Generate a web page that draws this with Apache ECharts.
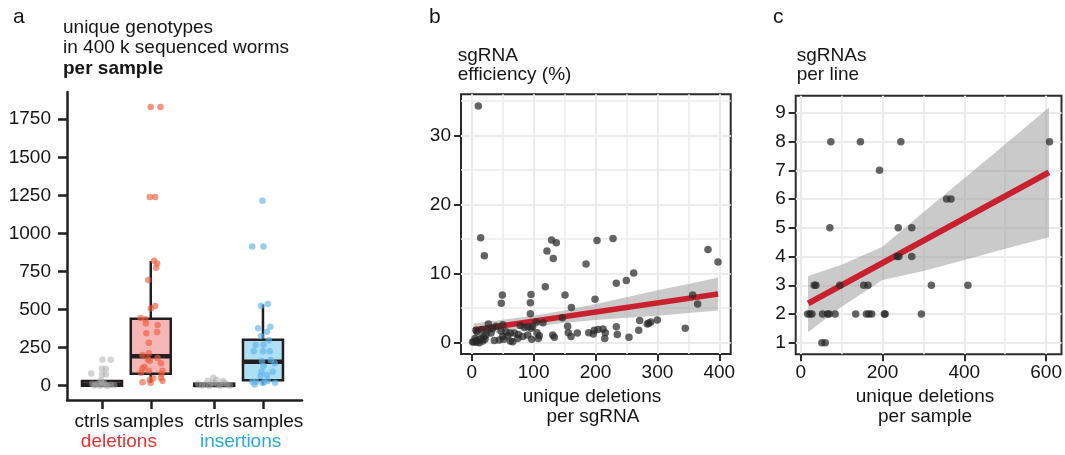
<!DOCTYPE html>
<html><head><meta charset="utf-8">
<script src="https://cdn.jsdelivr.net/npm/echarts@6/dist/echarts.min.js"></script>
<style>html,body{margin:0;padding:0;background:#fff}#chart{width:1065px;height:455px}</style>
</head><body><div id="chart"></div>
<script>
// ---------------- Panel a data ----------------
const aCategories = ['ctrls', 'samples', 'ctrls', 'samples'];
const aGroups = ['deletions', 'insertions'];
const aCatPos = [1, 2, 3.3, 4.3];
const aYTicks = [0, 250, 500, 750, 1000, 1250, 1500, 1750];
// box stats: [min, q1, median, q3, max]
const aBoxStats = [
  [0, 0, 8, 30, 37],
  [20, 79, 193, 440, 818],
  [0, 0, 4, 12, 20],
  [7, 35, 158, 302, 534]
];
// jittered points: [offset from category, value]
const delCtrlPts = [[0.01,171],[0.18,171],[-0.22,80],[0.00,112],[0.08,112],[0.00,73],[0.08,73],[-0.02,37],[-0.20,12],[-0.13,8],[-0.08,15],[0.00,4],[0.06,10],[0.12,2],[0.18,6],[0.25,3],[-0.16,1],[-0.05,0],[0.10,0],[0.04,18],[-0.01,22]];
const delSamplePts = [[0.00,1831],[0.20,1831],[-0.02,1240],[0.09,1240],[0.07,820],[0.13,803],[0.11,774],[-0.05,694],[0.00,508],[0.09,523],[-0.21,444],[-0.11,436],[-0.10,409],[0.14,398],[-0.09,344],[0.13,352],[-0.04,282],[-0.17,201],[-0.04,213],[0.14,182],[-0.06,173],[-0.02,164],[0.21,147],[-0.17,114],[-0.13,125],[-0.04,98],[0.24,98],[-0.20,85],[0.22,77],[0.05,49],[-0.02,37],[0.21,50],[0.24,33],[-0.17,22],[0.00,20]];
const insCtrlPts = [[-0.02,52],[-0.13,33],[0.05,37],[0.18,31],[-0.33,12],[-0.19,8],[-0.05,15],[0.08,6],[0.26,10],[0.32,2],[-0.25,2],[-0.10,0],[0.12,0],[0.00,20],[0.20,18]];
const insSamplePts = [[-0.01,1214],[-0.22,915],[0.01,915],[-0.04,525],[0.10,536],[-0.10,377],[0.15,387],[0.08,354],[-0.04,326],[0.12,298],[-0.15,267],[0.01,269],[-0.19,226],[0.00,226],[0.14,226],[-0.02,162],[0.16,169],[0.24,147],[0.01,129],[-0.03,92],[0.20,92],[-0.05,64],[0.08,70],[-0.22,26],[-0.14,26],[0.03,24],[0.10,33],[0.25,20],[-0.01,18],[-0.17,7]];

// ---------------- Panel b data ----------------
const bXTicks = [0, 100, 200, 300, 400];
const bXMinor = [50, 150, 250, 350];
const bYTicks = [0, 10, 20, 30];
const bYMinor = [5, 15, 25, 35];
const bPoints = [[10.7,34.3],[14.5,15.2],[20.4,12.6],[129,14.9],[136.7,14.5],[121.6,13.3],[131.8,12.2],[202.4,14.8],[228.3,15.1],[184.7,11.4],[381.7,13.5],[397.9,11.7],[261.7,10.1],[249.8,9.0],[233.6,8.6],[118.9,8.1],
 [49.5,6.9],[95.8,7.0],[150.7,6.9],[47.8,5.7],[94.7,5.8],[199.2,6.3],[357,6.9],[365,5.6],[94.7,4.2],[161,5.1],[146.4,3.6],[104.4,3.0],[115.2,2.9],
 [26.8,2.7],[78.5,2.5],[85,2.2],[90.5,2.3],[98.5,2.3],[39.3,2.4],[50.1,2.6],[16.2,1.9],[25.8,1.9],[33.9,2.1],[6.9,1.8],[47.3,1.7],[55.4,1.6],[62.4,1.4],[68.8,1.4],[75.3,1.2],[58.2,1.0],[50.1,0.9],[90.5,1.1],[105.5,1.45],[107.6,0.6],[130.9,1.1],[133.5,0.8],[155,2.4],[156,1.45],[160.4,0.9],[170.6,1.4],[189,1.45],[198,1.8],[196.4,1.26],
 [36.5,0.3],[44.6,0.4],[51.7,0.5],[62.4,0.25],[66.2,0.15],[74.3,0.6],[82.4,0.9],[96.9,0.5],[109.2,1.0],
 [3.2,0.15],[6.9,0.3],[10.7,0.4],[15,0.6],[19.4,0.9],[23.1,1.1],[5.3,0.6],[12.3,0.0],[17.8,0.25],[21.5,0.5],[8.6,1.6],[31.2,1.4],[1.5,0.1],[7.5,0.05],
 [271.4,3.2],[286,2.8],[289.2,3.0],[283.7,2.7],[299.8,3.3],[269.8,1.8],[345,2.1],[233.6,2.3],[235.2,1.2],[254.1,0.8],[212.1,2.0],[215.8,1.45],[214.9,0.6],[204,1.9],[95.8,2.1]];
const bFitLine = [[3, 1.84], [398, 7.06]];
const bBandX = [3, 50, 100, 150, 200, 250, 300, 350, 398];
const bBandLow = [0.89, 1.61, 2.32, 2.88, 3.29, 3.60, 3.91, 4.32, 4.66];
const bBandHigh = [2.79, 3.31, 3.92, 4.68, 5.59, 6.60, 7.61, 8.52, 9.46];

// ---------------- Panel c data ----------------
const cXTicks = [0, 200, 400, 600];
const cXMinor = [100, 300, 500];
const cYTicks = [1, 2, 3, 4, 5, 6, 7, 8, 9];
const cPoints = [[73.7,8],[146,8],[244.8,8],[608.3,8],[192.7,7],[356.7,6],[367.4,6],[71.3,5],[238.4,5],[271.5,5],[236,4],[240,4],[271.5,4],
 [33.1,3],[37.2,3],[95.6,3],[154,3],[164.5,3],[319.5,3],[408.8,3],
 [17,2],[22.6,2],[27.5,2],[53.5,2],[65.7,2],[69.6,2],[84.2,2],[134.5,2],[160.6,2],[166.9,2],[173.5,2],[204.5,2],[206.5,2],[295.1,2],
 [51.8,1],[60,1]];
const cFitLine = [[18.5, 2.37], [606.6, 6.93]];
const cBandX = [18, 100, 200, 300, 400, 500, 607];
const cBandLow = [1.36, 2.25, 3.18, 3.50, 3.88, 4.27, 4.67];
const cBandHigh = [3.32, 3.71, 4.34, 5.54, 6.73, 7.91, 9.19];

// ---------------- styles ----------------
const FONT = '"Liberation Sans", Arial, sans-serif';
const INK = '#151515';
const boxFills = ['#d9d9d9', '#f6b6b6', '#d9d9d9', '#aee0f5'];
const labelShift = [[0, 20, 0, 0], [0, 5, 0, 0], [0, 5, 0, 0], [0, 0, 0, 10]];
const groupShift = [[0, 15, 0, 0], [0, 0, 0, 4]];
const groupColors = ['#ee2f32', '#2aa9e0'];

const chart = echarts.init(document.getElementById('chart'), null, {renderer: 'canvas'});

const lbl = {fontFamily: FONT, fontSize: 19, color: INK};
const tickStyle = {color: '#2b2b2b', width: 2};
const plain = v => String(v);

function mainAxis(grid, min, max, ticks, margin, extra) {
  return Object.assign({
    gridIndex: grid, type: 'value', min: min, max: max,
    axisLine: {show: false, onZero: false},
    axisTick: {show: true, customValues: ticks, length: 7, lineStyle: tickStyle},
    axisLabel: Object.assign({customValues: ticks, margin: margin, formatter: plain}, lbl),
    splitLine: {show: true, lineStyle: {color: '#ebebeb', width: 2}}
  }, extra || {});
}
function minorAxis(grid, min, max, ticks) {
  return {
    gridIndex: grid, type: 'value', min: min, max: max,
    axisLine: {show: false, onZero: false},
    axisTick: {show: false, customValues: ticks},
    axisLabel: {show: false, customValues: ticks},
    splitLine: {show: true, lineStyle: {color: '#ebebeb', width: 1.5}}
  };
}

const groupPos = [(aCatPos[0] + aCatPos[1]) / 2, (aCatPos[2] + aCatPos[3]) / 2];

const aRich = {};
aCategories.forEach((c, i) => { aRich['l' + i] = Object.assign({padding: labelShift[i]}, lbl); });
const gRich = {};
aGroups.forEach((g, i) => { gRich['g' + i] = Object.assign({}, lbl, {color: groupColors[i], padding: groupShift[i]}); });

function boxRender(params, api) {
  const x = api.value(0);
  const lo = api.coord([x, api.value(1)]);
  const q1 = api.coord([x, api.value(2)]);
  const md = api.coord([x, api.value(3)]);
  const q3 = api.coord([x, api.value(4)]);
  const hi = api.coord([x, api.value(5)]);
  const w = api.size([0.82, 0])[0];
  const st = {stroke: '#231f20', lineWidth: 2.5};
  return {type: 'group', children: [
    {type: 'line', shape: {x1: hi[0], y1: hi[1], x2: q3[0], y2: q3[1]}, style: st},
    {type: 'line', shape: {x1: q1[0], y1: q1[1], x2: lo[0], y2: lo[1]}, style: st},
    {type: 'rect', shape: {x: q3[0] - w / 2, y: q3[1], width: w, height: q1[1] - q3[1]},
      style: {fill: boxFills[params.dataIndex], stroke: '#231f20', lineWidth: 2.5}},
    {type: 'line', shape: {x1: md[0] - w / 2, y1: md[1], x2: md[0] + w / 2, y2: md[1]},
      style: {stroke: '#231f20', lineWidth: 4.5}}
  ]};
}

function bandSeries(xi, yi, xs, lows, highs) {
  return {
    type: 'custom', xAxisIndex: xi, yAxisIndex: yi, silent: true, z: 1,
    data: [[xs[0], lows[0]]],
    renderItem: function (params, api) {
      const pts = [];
      for (let i = 0; i < xs.length; i++) pts.push(api.coord([xs[i], highs[i]]));
      for (let i = xs.length - 1; i >= 0; i--) pts.push(api.coord([xs[i], lows[i]]));
      return {type: 'polygon', shape: {points: pts}, style: {fill: 'rgba(150,150,150,0.5)'}};
    }
  };
}

const jitter = (pts, i) => pts.map(p => [aCatPos[i] + p[0], p[1]]);

function txt(x, y, text, opts) {
  return {type: 'text', x: x, y: y, silent: true,
    style: Object.assign({text: text, font: '19px ' + FONT, fill: INK, align: 'left', verticalAlign: 'middle'}, opts || {})};
}

const option = {
  animation: false,
  backgroundColor: '#ffffff',
  grid: [
    {left: 67, top: 92, width: 235, height: 308},
    {left: 461, top: 94.3, width: 269.7, height: 259.7, show: true, borderColor: '#2b2b2b', borderWidth: 2, backgroundColor: '#fff'},
    {left: 795.7, top: 95.7, width: 267, height: 258.6, show: true, borderColor: '#2b2b2b', borderWidth: 2, backgroundColor: '#fff'}
  ],
  xAxis: [
    {gridIndex: 0, type: 'value', min: 0.283, max: 5.1,
      axisLine: {show: true, onZero: false, lineStyle: {color: '#231f20', width: 2.5}},
      axisTick: {show: true, customValues: aCatPos, length: 9, lineStyle: {color: '#231f20', width: 2.5}},
      axisLabel: {customValues: aCatPos, margin: 12, rich: aRich,
        formatter: v => { const i = aCatPos.indexOf(v); return i < 0 ? '' : '{l' + i + '|' + aCategories[i] + '}'; }},
      splitLine: {show: false}},
    {gridIndex: 0, type: 'value', min: 0.283, max: 5.1, position: 'bottom',
      axisLine: {show: false, onZero: false}, axisTick: {show: false, customValues: groupPos},
      axisLabel: {customValues: groupPos, margin: 32, rich: gRich,
        formatter: v => { const i = groupPos.indexOf(v); return i < 0 ? '' : '{g' + i + '|' + aGroups[i] + '}'; }},
      splitLine: {show: false}},
    mainAxis(1, -17.3, 418.4, bXTicks, 9),
    minorAxis(1, -17.3, 418.4, bXMinor),
    mainAxis(2, -12.2, 637.5, cXTicks, 9),
    minorAxis(2, -12.2, 637.5, cXMinor)
  ],
  yAxis: [
    {gridIndex: 0, type: 'value', min: -94, max: 1929,
      axisLine: {show: true, onZero: false, lineStyle: {color: '#231f20', width: 2.5}},
      axisTick: {show: true, customValues: aYTicks, length: 9, lineStyle: {color: '#231f20', width: 2.5}},
      axisLabel: Object.assign({customValues: aYTicks, margin: 16, formatter: plain}, lbl),
      splitLine: {show: false}},
    mainAxis(1, -1.64, 36.0, bYTicks, 10),
    minorAxis(1, -1.64, 36.0, bYMinor),
    mainAxis(2, 0.596, 9.6, cYTicks, 10)
  ],
  series: [
    {type: 'custom', xAxisIndex: 0, yAxisIndex: 0, z: 2, silent: true,
      data: aBoxStats.map((s, i) => [aCatPos[i]].concat(s)),
      renderItem: boxRender},
    {type: 'scatter', xAxisIndex: 0, yAxisIndex: 0, z: 3, symbolSize: 6.5, silent: true,
      itemStyle: {color: 'rgba(165,165,165,0.6)'}, data: jitter(delCtrlPts, 0)},
    {type: 'scatter', xAxisIndex: 0, yAxisIndex: 0, z: 3, symbolSize: 6.5, silent: true,
      itemStyle: {color: 'rgba(240,90,60,0.8)'}, data: jitter(delSamplePts, 1)},
    {type: 'scatter', xAxisIndex: 0, yAxisIndex: 0, z: 3, symbolSize: 6.5, silent: true,
      itemStyle: {color: 'rgba(165,165,165,0.6)'}, data: jitter(insCtrlPts, 2)},
    {type: 'scatter', xAxisIndex: 0, yAxisIndex: 0, z: 3, symbolSize: 6.5, silent: true,
      itemStyle: {color: 'rgba(90,178,235,0.8)'}, data: jitter(insSamplePts, 3)},

    bandSeries(2, 1, bBandX, bBandLow, bBandHigh),
    {type: 'line', xAxisIndex: 2, yAxisIndex: 1, z: 2, symbol: 'none', silent: true,
      lineStyle: {color: '#c8202f', width: 5.5}, data: bFitLine},
    {type: 'scatter', xAxisIndex: 2, yAxisIndex: 1, z: 3, symbolSize: 7.5, silent: true,
      itemStyle: {color: 'rgba(40,40,40,0.9)'}, data: bPoints},

    bandSeries(4, 3, cBandX, cBandLow, cBandHigh),
    {type: 'line', xAxisIndex: 4, yAxisIndex: 3, z: 2, symbol: 'none', silent: true,
      lineStyle: {color: '#c8202f', width: 6}, data: cFitLine},
    {type: 'scatter', xAxisIndex: 4, yAxisIndex: 3, z: 3, symbolSize: 7.5, silent: true,
      itemStyle: {color: 'rgba(40,40,40,0.9)'}, data: cPoints}
  ],
  graphic: [
    txt(13, 17, 'a', {font: '21px ' + FONT}),
    txt(429, 17, 'b', {font: '21px ' + FONT}),
    txt(773, 17, 'c', {font: '21px ' + FONT}),
    txt(63, 27.5, 'unique genotypes'),
    txt(63, 48, 'in 400 k sequenced worms'),
    txt(63, 69, 'per sample', {font: 'bold 19px ' + FONT}),
    txt(457.7, 55.7, 'sgRNA'),
    txt(457.7, 74.5, 'efficiency (%)'),
    txt(796.7, 55.7, 'sgRNAs'),
    txt(796.7, 74.5, 'per line'),
    txt(592, 397, 'unique deletions', {align: 'center'}),
    txt(593, 416.5, 'per sgRNA', {align: 'center'}),
    txt(925, 397, 'unique deletions', {align: 'center'}),
    txt(925, 416.5, 'per sample', {align: 'center'})
  ]
};
chart.setOption(option);
</script>
</body></html>
